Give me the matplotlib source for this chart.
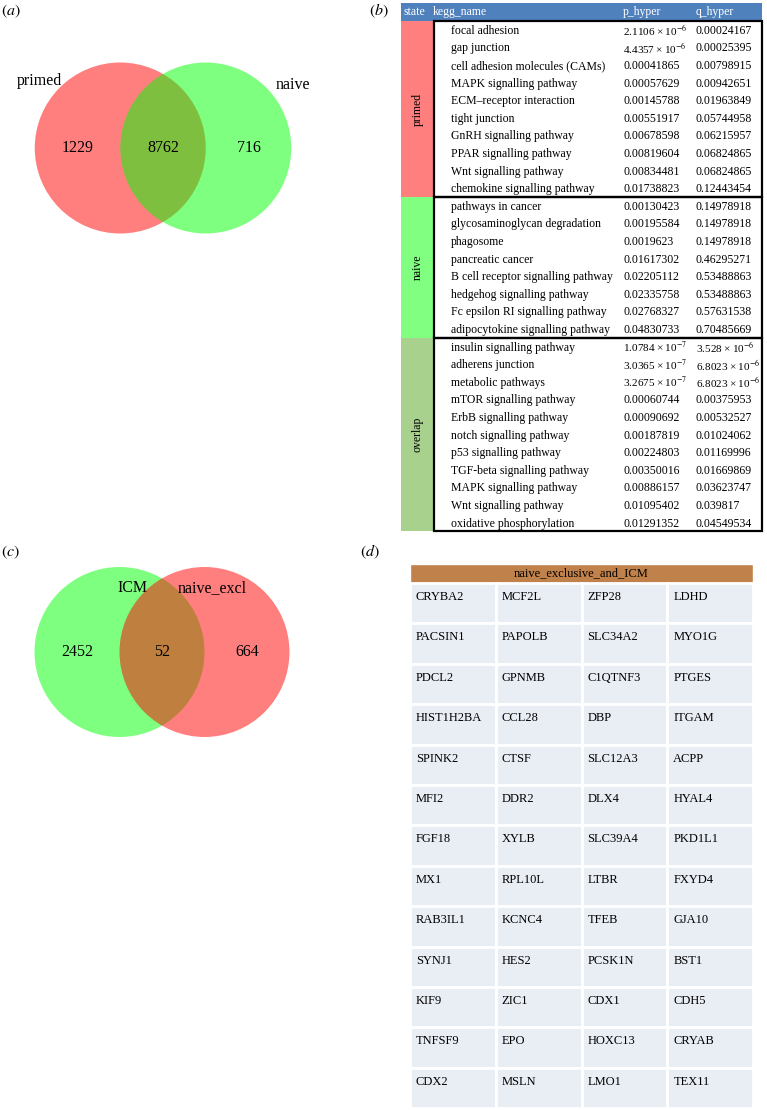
import matplotlib
matplotlib.use('Agg')
import matplotlib.pyplot as plt
from matplotlib.patches import Circle, Rectangle

plt.rcParams['font.family'] = ['Liberation Serif', 'DejaVu Serif']
plt.rcParams['mathtext.fontset'] = 'stix'

# ---- data ----
venn_a_sets = ['primed', 'naive']
venn_a_counts = [1229, 8762, 716]
venn_c_sets = ['ICM', 'naive_excl']
venn_c_counts = [2452, 52, 664]

table_cols = ['state', 'kegg_name', 'p_hyper', 'q_hyper']
states = ['primed', 'naive', 'overlap']
state_colors = ['#ff7f7f', '#80ff80', '#a9d18e']

primed_names = ['focal adhesion', 'gap junction', 'cell adhesion molecules (CAMs)',
                'MAPK signalling pathway', 'ECM\u2013receptor interaction', 'tight junction',
                'GnRH signalling pathway', 'PPAR signalling pathway', 'Wnt signalling pathway',
                'chemokine signalling pathway']
primed_p = [2.1106e-6, 4.4357e-6, 0.00041865, 0.00057629, 0.00145788, 0.00551917,
            0.00678598, 0.00819604, 0.00834481, 0.01738823]
primed_q = [0.00024167, 0.00025395, 0.00798915, 0.00942651, 0.01963849, 0.05744958,
            0.06215957, 0.06824865, 0.06824865, 0.12443454]

naive_names = ['pathways in cancer', 'glycosaminoglycan degradation', 'phagosome',
               'pancreatic cancer', 'B cell receptor signalling pathway',
               'hedgehog signalling pathway', 'Fc epsilon RI signalling pathway',
               'adipocytokine signalling pathway']
naive_p = [0.00130423, 0.00195584, 0.0019623, 0.01617302, 0.02205112, 0.02335758,
           0.02768327, 0.04830733]
naive_q = [0.14978918, 0.14978918, 0.14978918, 0.46295271, 0.53488863, 0.53488863,
           0.57631538, 0.70485669]

overlap_names = ['insulin signalling pathway', 'adherens junction', 'metabolic pathways',
                 'mTOR signalling pathway', 'ErbB signalling pathway', 'notch signalling pathway',
                 'p53 signalling pathway', 'TGF-beta signalling pathway', 'MAPK signalling pathway',
                 'Wnt signalling pathway', 'oxidative phosphorylation']
overlap_p = [1.0784e-7, 3.0365e-7, 3.2675e-7, 0.00060744, 0.00090692, 0.00187819,
             0.00224803, 0.00350016, 0.00886157, 0.01095402, 0.01291352]
overlap_q = [3.528e-6, 6.8023e-6, 6.8023e-6, 0.00375953, 0.00532527, 0.01024062,
             0.01169996, 0.01669869, 0.03623747, 0.039817, 0.04549534]

gene_title = 'naive_exclusive_and_ICM'
genes = ['CRYBA2', 'MCF2L', 'ZFP28', 'LDHD',
         'PACSIN1', 'PAPOLB', 'SLC34A2', 'MYO1G',
         'PDCL2', 'GPNMB', 'C1QTNF3', 'PTGES',
         'HIST1H2BA', 'CCL28', 'DBP', 'ITGAM',
         'SPINK2', 'CTSF', 'SLC12A3', 'ACPP',
         'MFI2', 'DDR2', 'DLX4', 'HYAL4',
         'FGF18', 'XYLB', 'SLC39A4', 'PKD1L1',
         'MX1', 'RPL10L', 'LTBR', 'FXYD4',
         'RAB3IL1', 'KCNC4', 'TFEB', 'GJA10',
         'SYNJ1', 'HES2', 'PCSK1N', 'BST1',
         'KIF9', 'ZIC1', 'CDX1', 'CDH5',
         'TNFSF9', 'EPO', 'HOXC13', 'CRYAB',
         'CDX2', 'MSLN', 'LMO1', 'TEX11']


def fmt(v):
    # small values shown as "m x 10^e", like the original table
    s = repr(v)
    if 'e' in s:
        m, e = s.split('e')
        return m + '\u2009\u00d7\u200910$^{' + str(int(e)) + '}$', 8.1
    return s, FS


fig = plt.figure(figsize=(7.67, 11.10), dpi=100)
ax = fig.add_axes([0, 0, 1, 1])
ax.set_xlim(0, 767)
ax.set_ylim(1110, 0)
ax.axis('off')

FS = 8.5


def venn(cx, cy, r, colors, names, name_pos, counts):
    for x, c in zip([cx - r / 2, cx + r / 2], colors):
        ax.add_patch(Circle((x, cy), r, facecolor=c, alpha=0.5, edgecolor='none'))
    xs = [cx - r, cx, cx + r]
    for x, n in zip(xs, counts):
        ax.text(x, cy, str(n), ha='center', va='center', fontsize=11.5)
    for (x, y), n in zip(name_pos, names):
        ax.text(x, y, n, ha='center', va='center', fontsize=11.5)


# (a)
ax.text(1, 11, '$(a)$', fontsize=11.5, va='center')
venn(163, 148, 85.5, ['red', 'lime'], venn_a_sets, [(39, 81), (293, 85)], venn_a_counts)

# (b) table
ax.text(369, 11, '$(b)$', fontsize=11.5, va='center')
x0, x1, xs, x2 = 401, 762, 434, 762
top, hh, rh = 3, 18, 17.6
ax.add_patch(Rectangle((x0, top), x1 - x0, hh, facecolor='#4f81bd', edgecolor='none'))
for x, c in zip([404, 433, 623, 696], table_cols):
    ax.text(x, top + hh / 2, c, color='white', fontsize=FS, va='center')

y = top + hh
groups = [(primed_names, primed_p, primed_q), (naive_names, naive_p, naive_q),
          (overlap_names, overlap_p, overlap_q)]
for st, col, (nm, pv, qv) in zip(states, state_colors, groups):
    h = rh * len(nm)
    ax.add_patch(Rectangle((x0, y), xs - x0, h, facecolor=col, edgecolor='none'))
    ax.text((x0 + xs) / 2, y + h / 2, st, rotation=90, ha='center', va='center', fontsize=FS)
    ax.add_patch(Rectangle((xs, y), x2 - xs, h, facecolor='none', edgecolor='black', lw=1.6))
    for i in range(len(nm)):
        yy = y + rh * (i + 0.5) + 1
        ax.text(451, yy, nm[i], fontsize=FS, va='center')
        t, f = fmt(pv[i])
        ax.text(623, yy, t, fontsize=f, va='center')
        t, f = fmt(qv[i])
        ax.text(696, yy, t, fontsize=f, va='center')
    y += h

# (c)
ax.text(1, 552, '$(c)$', fontsize=11.5, va='center')
venn(162, 652, 85, ['lime', 'red'], venn_c_sets, [(133, 588), (212, 588)], venn_c_counts)

# (d) gene table
ax.text(360, 552, '$(d)$', fontsize=11.5, va='center')
gx, gy, gw = 410, 564, 343
ghh, grh = 19, 40.4
ax.add_patch(Rectangle((gx, gy), gw, ghh, facecolor='#c0814a', edgecolor='white', lw=1))
ax.text(gx + gw / 2, gy + ghh / 2, gene_title, ha='center', va='center', fontsize=9)
cw = gw / 4
for k, g in enumerate(genes):
    r, c = divmod(k, 4)
    cx = gx + c * cw
    cy = gy + ghh + r * grh
    ax.add_patch(Rectangle((cx, cy), cw, grh, facecolor='#e9edf4', edgecolor='white', lw=2))
    ax.text(cx + 6, cy + 14, g, fontsize=9, va='center')

fig.savefig('out.png', dpi=100)
